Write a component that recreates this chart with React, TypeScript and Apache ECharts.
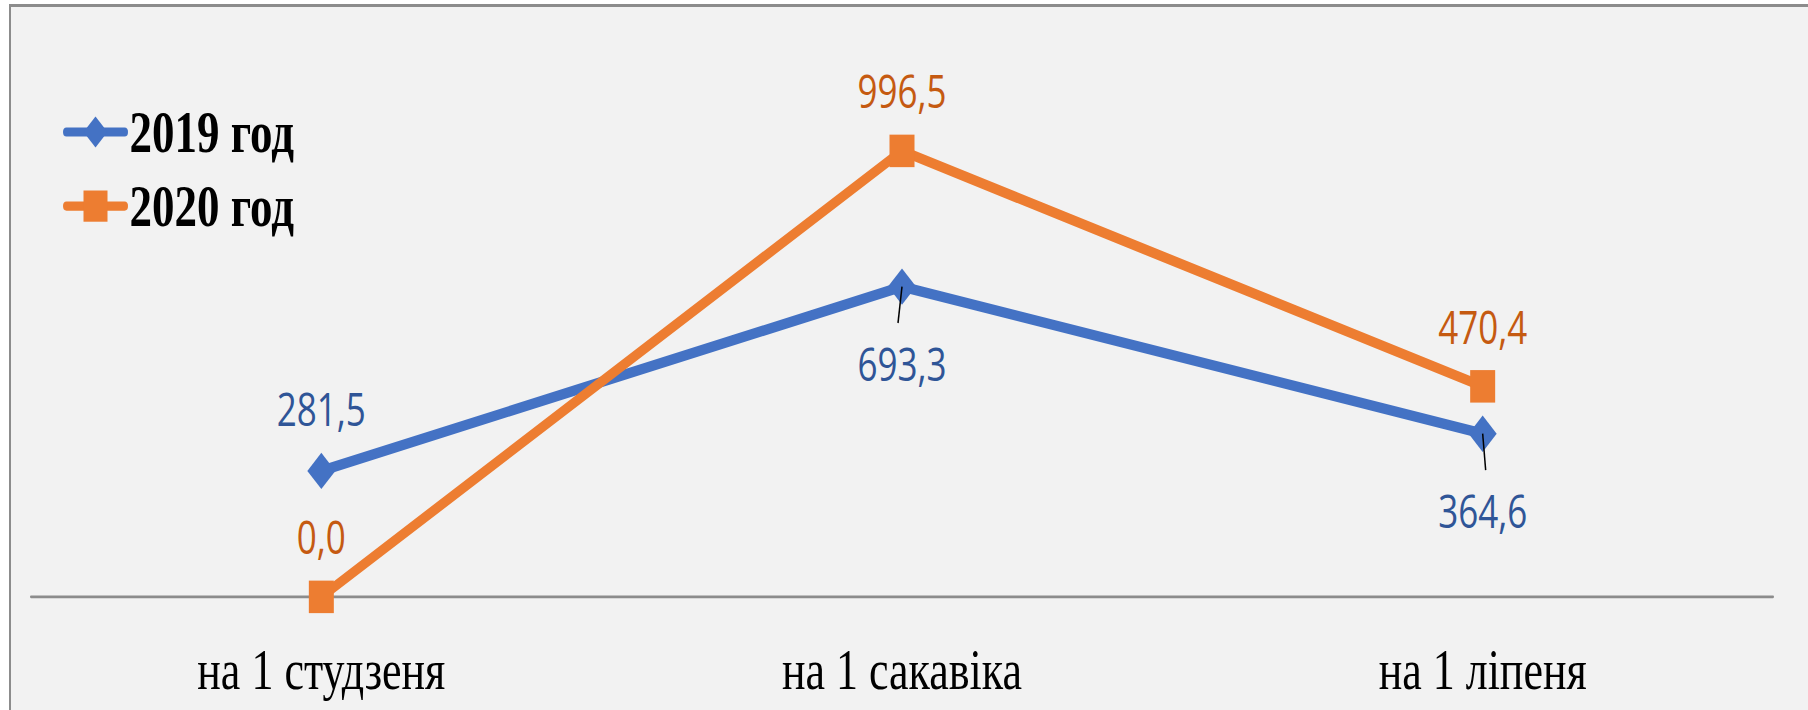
import React, { useEffect, useRef } from "react";
import * as echarts from "echarts";

const categories = ["на 1 студзеня", "на 1 сакавіка", "на 1 ліпеня"];
const seriesNames = ["2019 год", "2020 год"];
const values2019 = [281.5, 693.3, 364.6];
const values2020 = [0.0, 996.5, 470.4];

const W = 1808;
const H = 710;
const CH = 546;
const SCALE_Y = H / CH;

// leader-line styling for the 2019 labels placed below their points
const leaderShown = [false, true, true];
const leaderSlant = [0, -4, 3];

const fmt = (p: any) => Number(p.value).toFixed(1).replace(".", ",");

export default function App() {
  const ref = useRef<HTMLDivElement>(null);
  useEffect(() => {
    const chart = echarts.init(ref.current!, undefined, { renderer: "svg", width: W, height: CH });
    chart.setOption({
      animation: false,
      backgroundColor: "transparent",
      legend: {
        orient: "vertical",
        left: 58,
        top: 74,
        itemWidth: 58,
        itemHeight: 30,
        itemGap: 12,
        data: seriesNames,
        lineStyle: { width: 7, cap: "round" },
        textStyle: {
          fontFamily: "'Liberation Serif', 'Times New Roman', serif",
          fontWeight: "bold",
          fontSize: 45,
          color: "#000",
        },
      },
      grid: { left: 31, right: 35, top: 46, bottom: 87 },
      xAxis: {
        type: "category",
        data: categories,
        boundaryGap: true,
        axisLine: { show: true, lineStyle: { color: "#8c8c8c", width: 2 } },
        axisTick: { show: false },
        axisLabel: {
          margin: 34,
          fontFamily: "'Liberation Serif', 'Times New Roman', serif",
          fontSize: 44,
          color: "#000",
        },
      },
      yAxis: {
        type: "value",
        min: 0,
        max: 1200,
        show: false,
        splitLine: { show: false },
      },
      series: [
        {
          name: seriesNames[0],
          type: "line",
          data: values2019.map((v, i) => ({
            value: v,
            label: { position: i === 0 ? "top" : "bottom", distance: i === 0 ? 16 : 28 },
          })),
          symbol: "diamond",
          symbolSize: 28,
          lineStyle: { color: "#4472c4", width: 8 },
          itemStyle: { color: "#4472c4" },
          label: {
            show: true,
            formatter: fmt,
            fontFamily: "'Open Sans', sans-serif",
            fontSize: 35,
            color: "#2f5597",
          },
          z: 2,
        },
        {
          name: seriesNames[1],
          type: "line",
          data: values2020,
          symbol: "rect",
          symbolSize: 25,
          lineStyle: { color: "#ed7d31", width: 8 },
          itemStyle: { color: "#ed7d31" },
          label: {
            show: true,
            position: "top",
            distance: 16,
            formatter: fmt,
            fontFamily: "'Open Sans', sans-serif",
            fontSize: 35,
            color: "#c55a11",
          },
          z: 3,
        },
        {
          name: "leader",
          type: "custom",
          silent: true,
          z: 5,
          encode: { x: 0, y: 1 },
          data: values2019.map((v, i) => [i, v]),
          renderItem: (params: any, api: any) => {
            const i = params.dataIndex;
            if (!leaderShown[i]) return { type: "group", children: [] };
            const p = api.coord([api.value(0), api.value(1)]);
            return {
              type: "line",
              shape: { x1: p[0], y1: p[1], x2: p[0] + leaderSlant[i], y2: p[1] + 28 },
              style: { stroke: "#000", lineWidth: 1.5 },
            };
          },
        },
      ],
    });
    return () => chart.dispose();
  }, []);

  return (
    <div
      style={{
        position: "absolute",
        left: 0,
        top: 0,
        width: W,
        height: H,
        background: "#ffffff",
        overflow: "hidden",
      }}
    >
      <div
        style={{
          position: "absolute",
          left: 9,
          top: 4,
          width: W - 9,
          height: H - 4,
          background: "#f2f2f2",
          borderLeft: "2px solid #8c8c8c",
          borderTop: "3px solid #8c8c8c",
          boxSizing: "border-box",
        }}
      />
      <div
        ref={ref}
        style={{
          position: "absolute",
          left: 0,
          top: 0,
          width: W,
          height: CH,
          transform: `scaleY(${SCALE_Y})`,
          transformOrigin: "0 0",
        }}
      />
    </div>
  );
}
